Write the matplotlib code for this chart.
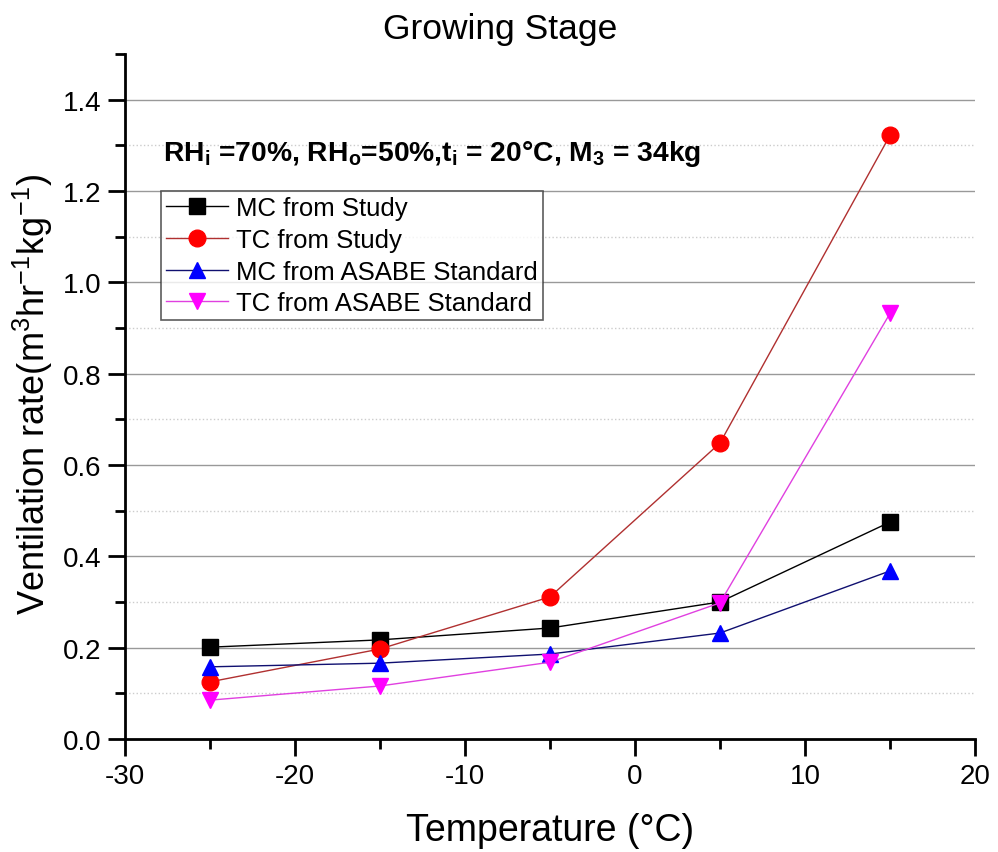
import matplotlib
matplotlib.use("Agg")
import matplotlib.pyplot as plt
from matplotlib.ticker import MultipleLocator, FormatStrFormatter

plt.rcParams['font.family'] = ['Liberation Sans', 'DejaVu Sans']
plt.rcParams['mathtext.fontset'] = 'custom'
plt.rcParams['mathtext.rm'] = 'Liberation Sans'
plt.rcParams['mathtext.bf'] = 'Liberation Sans:bold'
plt.rcParams['axes.unicode_minus'] = False

temperature = [-25, -15, -5, 5, 15]
mc_study = [0.201, 0.217, 0.243, 0.300, 0.475]
tc_study = [0.125, 0.197, 0.311, 0.648, 1.322]
mc_asabe = [0.158, 0.166, 0.186, 0.232, 0.368]
tc_asabe = [0.085, 0.116, 0.168, 0.298, 0.932]

fig = plt.figure(figsize=(9.98, 8.53), dpi=100)
ax = fig.add_axes([0.125, 0.1325, 0.852, 0.803])

ax.plot(temperature, mc_study, color='black', lw=1, marker='s', ms=11, label='MC from Study')
ax.plot(temperature, tc_study, color='#b03030', lw=1, marker='o', ms=12, mfc='red', mec='red', label='TC from Study')
ax.plot(temperature, mc_asabe, color='#101070', lw=1, marker='^', ms=12, mfc='blue', mec='blue', label='MC from ASABE Standard')
ax.plot(temperature, tc_asabe, color='#e040e0', lw=1, marker='v', ms=12, mfc='magenta', mec='magenta', label='TC from ASABE Standard')

ax.set_xlim(-30, 20)
ax.set_ylim(0, 1.5)
ax.xaxis.set_major_locator(MultipleLocator(10))
ax.xaxis.set_minor_locator(MultipleLocator(5))
ax.set_yticks([0.0, 0.2, 0.4, 0.6, 0.8, 1.0, 1.2, 1.4])
ax.set_yticks([0.1, 0.3, 0.5, 0.7, 0.9, 1.1, 1.3, 1.5], minor=True)
ax.yaxis.set_major_formatter(FormatStrFormatter('%.1f'))

ax.grid(True, which='major', axis='y', color='#999999', lw=1, ls='-')
ax.grid(True, which='minor', axis='y', color='#cccccc', lw=1, ls=':')
ax.set_axisbelow(True)
ax.yaxis.get_minor_ticks()[-1].gridline.set_visible(False)
ax.yaxis.get_major_ticks()[0].gridline.set_visible(False)

for s in ['top', 'right']:
    ax.spines[s].set_visible(False)
for s in ['left', 'bottom']:
    ax.spines[s].set_linewidth(2)

ax.tick_params(which='major', direction='out', length=12, width=2, labelsize=20, pad=5)
ax.tick_params(which='minor', direction='out', length=7, width=2)

ax.set_xlabel('Temperature (°C)', fontsize=27, labelpad=17)
ax.set_ylabel('Ventilation rate(m$^{3}$hr$^{-1}$kg$^{-1}$)', fontsize=26, labelpad=4)
ax.yaxis.set_label_coords(-0.082, 0.505)
fig.suptitle('Growing Stage', fontsize=25.5, x=0.501, y=0.985, va='top')

ax.text(0.045, 0.855,
        r'RH$_{\mathbf{i}}$ =70%, RH$_{\mathbf{o}}$=50%,t$_{\mathbf{i}}$ = 20°C, M$_{\mathbf{3}}$ = 34kg',
        transform=ax.transAxes, fontsize=20.3, fontweight='bold', va='center')

leg = ax.legend(loc='upper left', bbox_to_anchor=(0.043, 0.80), fontsize=18.5,
                frameon=True, fancybox=False, edgecolor='#333333', borderpad=0.2,
                labelspacing=0.3, handlelength=2.4, handletextpad=0.3, borderaxespad=0)
leg.get_frame().set_linewidth(1.2)

fig.savefig('out.png', dpi=100)
